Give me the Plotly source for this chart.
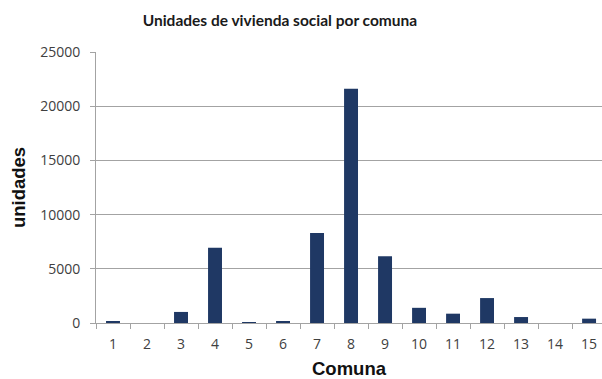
import plotly.graph_objects as go

# Housing units per commune
comunas = [str(i) for i in range(1, 16)]
unidades = [150, 0, 1020, 6950, 50, 150, 8300, 21600, 6150, 1400, 860, 2300, 550, 0, 400]
y_ticks = [0, 5000, 10000, 15000, 20000, 25000]

bar_color = "#1f3864"
grid_color = "#a3a3a3"
tick_font = "'Open Sans', sans-serif"
title_font = "Lato, 'Open Sans', sans-serif"
axis_title_font = "'Liberation Sans', Arial, sans-serif"

fig = go.Figure(
    go.Bar(x=comunas, y=unidades, marker=dict(color=bar_color, line=dict(width=0)))
)

fig.update_layout(
    width=602,
    height=379,
    margin=dict(l=96, r=0, t=52, b=56),
    paper_bgcolor="white",
    plot_bgcolor="white",
    bargap=0.59,
    showlegend=False,
    title=dict(
        text="<b>Unidades de vivienda social por comuna</b>",
        x=0.465,
        xanchor="center",
        y=0.947,
        yanchor="middle",
        font=dict(size=15.5, color="#1a1a1a", family=title_font),
    ),
)

fig.update_xaxes(
    type="category",
    range=[-0.5, 14.38],
    showline=True,
    linecolor=grid_color,
    linewidth=1,
    ticks="outside",
    tickson="boundaries",
    ticklen=5,
    tickcolor=grid_color,
    ticklabelstandoff=8,
    tickfont=dict(size=14, color="#404040", family=tick_font),
    showgrid=False,
    title=dict(
        text="<b>Comuna</b>",
        font=dict(size=18.5, color="#111111", family=axis_title_font),
        standoff=10,
    ),
)

fig.update_yaxes(
    range=[0, 25000],
    tickvals=y_ticks,
    ticktext=[str(v) for v in y_ticks],
    showline=True,
    linecolor=grid_color,
    linewidth=1,
    ticks="outside",
    ticklen=5,
    tickcolor=grid_color,
    ticklabelstandoff=7,
    showgrid=True,
    gridcolor=grid_color,
    gridwidth=1,
    zeroline=False,
    tickfont=dict(size=14, color="#404040", family=tick_font),
    title=dict(
        text="<b>unidades</b>",
        font=dict(size=18.5, color="#111111", family=axis_title_font),
        standoff=9,
    ),
)

fig.write_html("out.html")
